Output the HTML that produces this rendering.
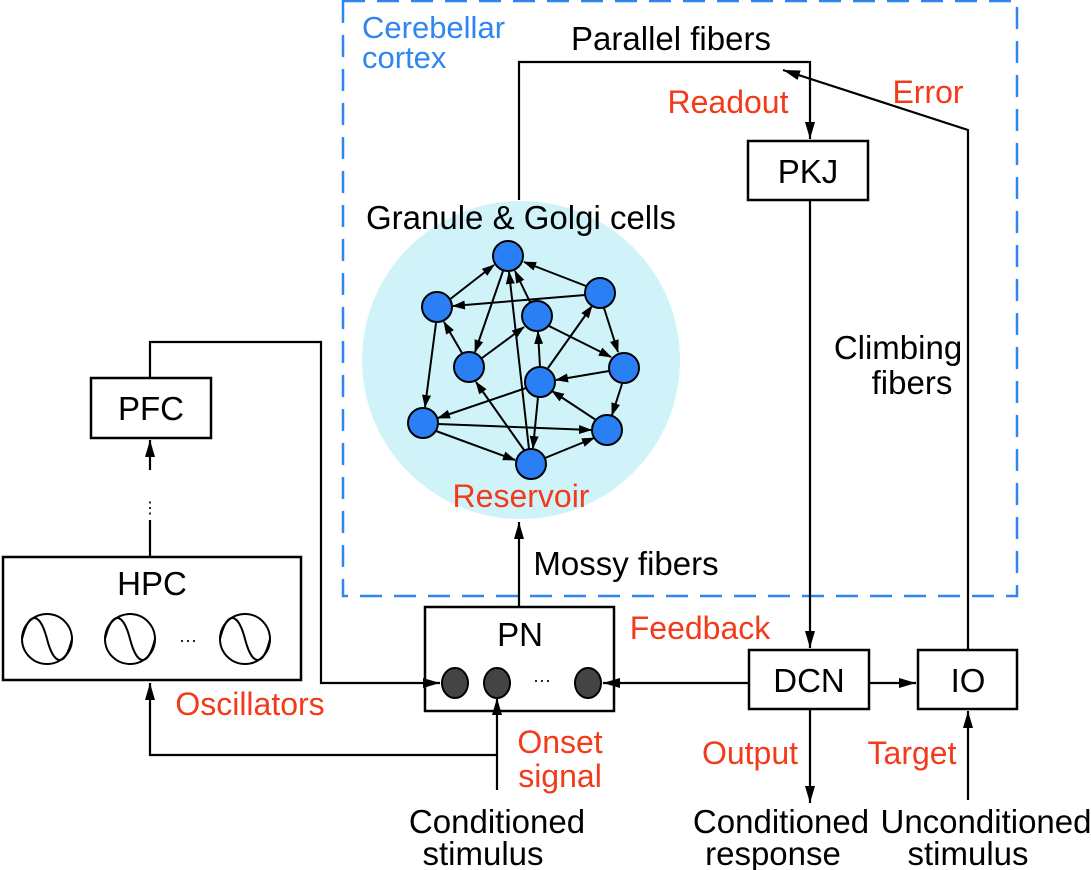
<!DOCTYPE html>
<html><head><meta charset="utf-8"><style>
html,body{margin:0;padding:0;background:#fff;}
svg{display:block;font-family:"Liberation Sans",Arial,sans-serif;}
</style></head><body>
<svg width="1091" height="870" viewBox="0 0 1091 870" xmlns="http://www.w3.org/2000/svg">
<defs>
<marker id="a" markerWidth="13" markerHeight="10" refX="12" refY="5" orient="auto" markerUnits="userSpaceOnUse"><path d="M0,0.5 L13,5 L0,9.5 Z" fill="#000"/></marker>
<marker id="b" markerWidth="18" markerHeight="12" refX="17" refY="6" orient="auto" markerUnits="userSpaceOnUse"><path d="M0,1 L17,6 L0,11 Z" fill="#000"/></marker>
</defs>
<circle cx="521" cy="360" r="159" fill="#cff3f8"/>
<rect x="343" y="1" width="674" height="595" fill="none" stroke="#2f86f0" stroke-width="2.5" stroke-dasharray="22,12"/>
<g stroke="#000" stroke-width="2.5" fill="#fff">
<rect x="748" y="141" width="120" height="59"/>
<rect x="91" y="378" width="120" height="60"/>
<rect x="3" y="557" width="298" height="123"/>
<rect x="425" y="607" width="189" height="104"/>
<rect x="749" y="650" width="120" height="59"/>
<rect x="918" y="650" width="99" height="59"/>
</g>
<g stroke="#000" stroke-width="2.2" fill="none">
<path d="M519,200 V62 H810 V139" marker-end="url(#b)"/>
<path d="M968,650 V130 L783,70" marker-end="url(#b)"/>
<path d="M810,200 V648" marker-end="url(#b)"/>
<path d="M519,606 V522" marker-end="url(#b)"/>
<path d="M150,378 V342 H321 V683 H440" marker-end="url(#b)"/>
<path d="M150,557 V520"/>
<path d="M150,470 V440" marker-end="url(#b)"/>
<path d="M497,790 V698" marker-end="url(#b)"/>
<path d="M497,755 H150 V683" marker-end="url(#b)"/>
<path d="M749,683 H603" marker-end="url(#b)"/>
<path d="M869,683 H916" marker-end="url(#b)"/>
<path d="M810,709 V803" marker-end="url(#b)"/>
<path d="M968,800 V711" marker-end="url(#b)"/>
</g>
<text x="150" y="513" font-size="16" text-anchor="middle">⋮</text>
<g stroke="#000" stroke-width="2" fill="none">
<circle cx="47" cy="639" r="25"/><circle cx="130" cy="639" r="25"/><circle cx="245" cy="639" r="25"/>
<path d="M22,639 C29,610 40,612 47,639 S65,668 72,639"/>
<path d="M105,639 C112,610 123,612 130,639 S148,668 155,639"/>
<path d="M220,639 C227,610 238,612 245,639 S263,668 270,639"/>
</g>
<text x="188" y="646" font-size="18" text-anchor="middle">···</text>
<g fill="#444" stroke="#000" stroke-width="2">
<ellipse cx="455" cy="683" rx="13" ry="15"/><ellipse cx="497" cy="683" rx="13" ry="15"/><ellipse cx="588" cy="683" rx="13" ry="15"/>
</g>
<text x="542" y="686" font-size="18" text-anchor="middle">···</text>
<g stroke="#000" stroke-width="2" marker-end="url(#a)">
<line x1="449" y1="300" x2="494" y2="265"/>
<line x1="503" y1="271" x2="475" y2="352"/>
<line x1="529" y1="449" x2="509" y2="272"/>
<line x1="530" y1="302" x2="515" y2="271"/>
<line x1="586" y1="286" x2="524" y2="262"/>
<line x1="585" y1="295" x2="453" y2="306"/>
<line x1="436" y1="323" x2="425" y2="407"/>
<line x1="462" y1="353" x2="444" y2="322"/>
<line x1="482" y1="358" x2="524" y2="327"/>
<line x1="549" y1="326" x2="611" y2="357"/>
<line x1="540" y1="367" x2="538" y2="332"/>
<line x1="548" y1="368" x2="592" y2="306"/>
<line x1="604" y1="308" x2="618" y2="352"/>
<line x1="609" y1="371" x2="556" y2="380"/>
<line x1="622" y1="384" x2="612" y2="415"/>
<line x1="596" y1="420" x2="552" y2="391"/>
<line x1="526" y1="388" x2="438" y2="418"/>
<line x1="538" y1="397" x2="533" y2="448"/>
<line x1="438" y1="424" x2="591" y2="430"/>
<line x1="436" y1="431" x2="515" y2="460"/>
<line x1="524" y1="450" x2="476" y2="382"/>
<line x1="545" y1="458" x2="594" y2="438"/>
</g>
<g fill="#2a7ff5" stroke="#000" stroke-width="2">
<circle cx="508" cy="256" r="15"/><circle cx="437" cy="307" r="15"/><circle cx="600" cy="293" r="15"/>
<circle cx="537" cy="316" r="15"/><circle cx="469" cy="367" r="15"/><circle cx="540" cy="382" r="15"/>
<circle cx="624" cy="368" r="15"/><circle cx="423" cy="423" r="15"/><circle cx="607" cy="430" r="15"/>
<circle cx="531" cy="464" r="15"/>
</g>
<g font-size="33" fill="#000" text-anchor="middle">
<text x="671" y="50">Parallel fibers</text>
<text x="808" y="183">PKJ</text>
<text x="521" y="229">Granule &amp; Golgi cells</text>
<text x="898" y="359">Climbing</text>
<text x="912" y="394">fibers</text>
<text x="151" y="420">PFC</text>
<text x="152" y="595">HPC</text>
<text x="520" y="646">PN</text>
<text x="626" y="575">Mossy fibers</text>
<text x="809" y="692">DCN</text>
<text x="968" y="692">IO</text>
<text x="497" y="833">Conditioned</text>
<text x="483" y="865">stimulus</text>
<text x="781" y="833">Conditioned</text>
<text x="773" y="865">response</text>
<text x="986" y="833">Unconditioned</text>
<text x="968" y="865">stimulus</text>
</g>
<g font-size="32" fill="#f33a1a" text-anchor="middle">
<text x="728" y="113">Readout</text>
<text x="928" y="103">Error</text>
<text x="521" y="507">Reservoir</text>
<text x="700" y="639">Feedback</text>
<text x="250" y="715">Oscillators</text>
<text x="560" y="753">Onset</text>
<text x="560" y="787">signal</text>
<text x="750" y="764">Output</text>
<text x="912" y="764">Target</text>
</g>
<text x="362" y="38" font-size="31" fill="#2f86f0">Cerebellar</text>
<text x="362" y="68" font-size="31" fill="#2f86f0">cortex</text>
</svg>
</body></html>
